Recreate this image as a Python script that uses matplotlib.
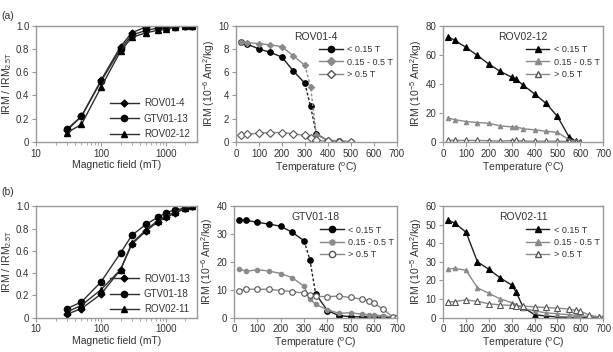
import matplotlib
matplotlib.use('Agg')
import matplotlib.pyplot as plt
from matplotlib.ticker import FixedLocator, NullFormatter

# IRM acquisition fields (mT)
fields = [30, 50, 100, 200, 300, 500, 750, 1000, 1400, 2000, 2500]

acq_a_names = ['ROV01-4', 'GTV01-13', 'ROV02-12']
acq_a = [
    [0.10, 0.22, 0.53, 0.82, 0.94, 0.99, 1.00, 1.00, 1.00, 1.00, 1.00],
    [0.11, 0.22, 0.52, 0.80, 0.92, 0.96, 0.98, 0.98, 0.99, 1.00, 1.00],
    [0.08, 0.15, 0.47, 0.78, 0.90, 0.94, 0.96, 0.97, 0.99, 1.00, 1.00],
]
acq_b_names = ['ROV01-13', 'GTV01-18', 'ROV02-11']
acq_b = [
    [0.03, 0.08, 0.21, 0.43, 0.66, 0.78, 0.86, 0.90, 0.94, 0.98, 1.00],
    [0.08, 0.14, 0.32, 0.58, 0.74, 0.84, 0.90, 0.94, 0.97, 0.98, 1.00],
    [0.05, 0.11, 0.25, 0.43, 0.67, 0.79, 0.87, 0.91, 0.95, 0.98, 1.00],
]

comp_labels = ['< 0.15 T', '0.15 - 0.5 T', '> 0.5 T']

# ROV01-4 thermal demagnetisation
t_rov014 = [20, 50, 100, 150, 200, 250, 300, 325, 350, 400, 450, 500]
rov014 = [
    [8.6, 8.4, 8.0, 7.7, 7.3, 6.1, 5.05, 3.05, 0.7, 0.1, 0.05, 0.0],
    [8.6, 8.55, 8.45, 8.35, 8.2, 7.4, 6.6, 4.75, 0.6, 0.15, 0.08, 0.02],
    [0.6, 0.65, 0.75, 0.8, 0.8, 0.7, 0.55, 0.3, 0.15, 0.05, 0.03, 0.0],
]

# ROV02-12
t_rov0212 = [20, 50, 100, 150, 200, 250, 300, 320, 350, 400, 450, 500, 550, 580, 600]
rov0212 = [
    [72.5, 70, 65, 59.5, 53.5, 48.5, 44.5, 43, 39, 33, 26.5, 17.5, 3.5, 0.5, 0],
    [16.5, 15.3, 14, 13.3, 12.8, 11, 10.3, 10.3, 9, 8.3, 7.3, 6.5, 1.5, 0.5, 0],
    [1.2, 1.0, 1.0, 1.0, 0.8, 0.5, 0.9, 1.0, 0.6, 0.4, 0.5, 0.4, 0.3, 0.1, 0],
]

# GTV01-18
t_gtv0118 = [20, 50, 100, 150, 200, 250, 300, 325, 350, 400, 450, 500, 550, 580, 600, 640, 680, 700]
gtv0118 = [
    [35, 35, 34.2, 33.6, 32.8, 30.6, 27.6, 20.8, 8.5, 2.5, 0.7, 0.3, 0.2, 0.1, 0.1, 0.1, 0.0, 0.0],
    [17.6, 16.6, 17.2, 16.7, 15.8, 14.3, 11.2, 6.6, 4.7, 2.8, 1.5, 1.7, 1.2, 1.0, 0.9, 0.6, 0.2, 0.0],
    [9.7, 10.1, 10.2, 10.1, 9.7, 9.3, 8.8, 8.0, 7.6, 7.5, 7.7, 7.2, 6.6, 6.1, 5.2, 2.9, 0.3, 0.0],
]

# ROV02-11
t_rov0211 = [20, 50, 100, 150, 200, 250, 300, 320, 350, 400, 450, 500, 550, 580, 600, 640, 680, 700]
rov0211 = [
    [52.5, 51, 46, 30, 26, 21.3, 17.5, 13.5, 5.5, 1.5, 0.8, 0.3, 0.1, 0.1, 0.1, 0.0, 0.0, 0.0],
    [26, 26.5, 25.5, 16, 13, 10, 8, 7, 5, 3.5, 2.5, 2, 1.5, 1.2, 1.0, 0.5, 0.2, 0.0],
    [8.3, 8.6, 9.5, 8.7, 7.4, 6.8, 6.5, 6.3, 6.2, 5.7, 5.4, 5.0, 4.6, 3.9, 3.4, 1.3, 0.3, 0.0],
]

spine_col = '#9a9a9a'
txt_col = '#333333'
plt.rcParams['font.family'] = ['Liberation Sans', 'DejaVu Sans']
plt.rcParams['font.size'] = 7
plt.rcParams['mathtext.fontset'] = 'custom'
plt.rcParams['mathtext.rm'] = 'Liberation Sans'
plt.rcParams['mathtext.it'] = 'Liberation Sans'

fig = plt.figure(figsize=(6.13, 3.52), dpi=100)


def style_axes(ax):
    for s in ax.spines.values():
        s.set_color(spine_col)
        s.set_linewidth(1.0)
    ax.tick_params(colors=spine_col, labelcolor=txt_col, labelsize=7,
                   direction='out', length=3, width=0.8, pad=2)
    ax.tick_params(which='minor', colors=spine_col, length=2, width=0.6)


def acq_panel(rect, names, data):
    ax = fig.add_axes(rect)
    markers = ['D', 'o', '^']
    sizes = [3.5, 4.5, 4]
    for name, vals, m, ms in zip(names, data, markers, sizes):
        ax.plot(fields, vals, color='#303030', lw=1.0, marker=m, ms=ms,
                mfc='black', mec='black', label=name)
    ax.set_xscale('log')
    ax.set_xlim(10, 3000)
    ax.set_ylim(0, 1.0)
    ax.set_xticks([10, 100, 1000])
    ax.set_xticklabels(['10', '100', '1000'])
    ax.xaxis.set_minor_locator(FixedLocator(
        [20, 30, 40, 50, 60, 70, 80, 90, 200, 300, 400, 500, 600, 700, 800, 900, 2000]))
    ax.xaxis.set_minor_formatter(NullFormatter())
    ax.set_yticks([0, 0.2, 0.4, 0.6, 0.8, 1.0])
    ax.set_yticklabels(['0', '0.2', '0.4', '0.6', '0.8', '1.0'])
    ax.set_xlabel('Magnetic field (mT)', color=txt_col, fontsize=7.5, labelpad=1)
    ax.set_ylabel('IRM / IRM$_{2.5T}$', color=txt_col, fontsize=7.5, labelpad=1)
    style_axes(ax)
    leg = ax.legend(loc='lower right', bbox_to_anchor=(1.01, -0.05), frameon=False,
                    fontsize=7, handlelength=3.0, labelspacing=0.55, handletextpad=0.5)
    for t in leg.get_texts():
        t.set_color(txt_col)
    return ax


def plot_dashed(ax, x, y, dash_range, **kw):
    # solid everywhere except the steep drop, which is dashed
    i0, i1 = dash_range
    ax.plot(x[:i0 + 1], y[:i0 + 1], ls='-', marker='none', **kw)
    ax.plot(x[i0:i1 + 1], y[i0:i1 + 1], ls=(0, (2, 1.5)), marker='none', **kw)
    ax.plot(x[i1:], y[i1:], ls='-', marker='none', **kw)


def demag_panel(rect, temps, data, title, ymax, ystep, unit, markers, dashed):
    ax = fig.add_axes(rect)
    colors = ['#202020', '#8a8a8a', '#8a8a8a']
    mfcs = ['black', '#8a8a8a', 'white']
    mecs = ['black', '#8a8a8a', '#555555']
    sizes = [4, 3.2, 4]
    for k in range(3):
        m = markers[k]
        lw = 1.0
        if dashed[k] is not None:
            plot_dashed(ax, temps, data[k], dashed[k], color=colors[k], lw=lw)
            ax.plot(temps, data[k], ls='none', marker=m, ms=sizes[k],
                    mfc=mfcs[k], mec=mecs[k], mew=0.8)
        else:
            ax.plot(temps, data[k], color=colors[k], lw=lw, marker=m, ms=sizes[k],
                    mfc=mfcs[k], mec=mecs[k], mew=0.8)
        ax.plot([], [], color=colors[k], lw=lw, marker=m, ms=sizes[k] + 0.5,
                mfc=mfcs[k], mec=mecs[k], label=comp_labels[k])
    ax.set_xlim(0, 700)
    ax.set_ylim(0, ymax)
    ax.set_xticks(range(0, 701, 100))
    ax.set_yticks(range(0, ymax + 1, ystep))
    ax.set_xlabel('Temperature ($^{o}$C)', color=txt_col, fontsize=7.5, labelpad=1)
    ax.set_ylabel('IRM (10$^{%s}$ Am$^{2}$/kg)' % unit, color=txt_col, fontsize=7.5, labelpad=1)
    ax.text(0.5, 0.9, title, transform=ax.transAxes, ha='center', va='center',
            color=txt_col, fontsize=7.5)
    style_axes(ax)
    leg = ax.legend(loc='upper right', bbox_to_anchor=(1.03, 0.9), frameon=False,
                    fontsize=6.5, handlelength=2.6, labelspacing=0.35, handletextpad=0.5)
    for t in leg.get_texts():
        t.set_color(txt_col)
    return ax


bot_y, bot_h = 0.098, 0.316

acq_panel([0.059, 0.597, 0.262, 0.330], acq_a_names, acq_a)
acq_panel([0.059, bot_y, 0.262, bot_h], acq_b_names, acq_b)

demag_panel([0.385, 0.597, 0.262, 0.330], t_rov014, rov014, 'ROV01-4', 10, 2, '-6',
            ['o', 'D', 'D'], [(6, 8), (6, 8), None])
demag_panel([0.723, 0.597, 0.261, 0.330], t_rov0212, rov0212, 'ROV02-12', 80, 20, '-5',
            ['^', '^', '^'], [None, None, None])
demag_panel([0.382, bot_y, 0.266, bot_h], t_gtv0118, gtv0118, 'GTV01-18', 40, 10, '-6',
            ['o', 'o', 'o'], [(6, 8), None, None])
demag_panel([0.723, bot_y, 0.261, bot_h], t_rov0211, rov0211, 'ROV02-11', 60, 10, '-5',
            ['^', '^', '^'], [None, None, None])

fig.text(0.003, 0.955, '(a)', fontsize=7.5, color=txt_col, va='center')
fig.text(0.003, 0.455, '(b)', fontsize=7.5, color=txt_col, va='center')

plt.savefig('out.png', dpi=100)
plt.close()
